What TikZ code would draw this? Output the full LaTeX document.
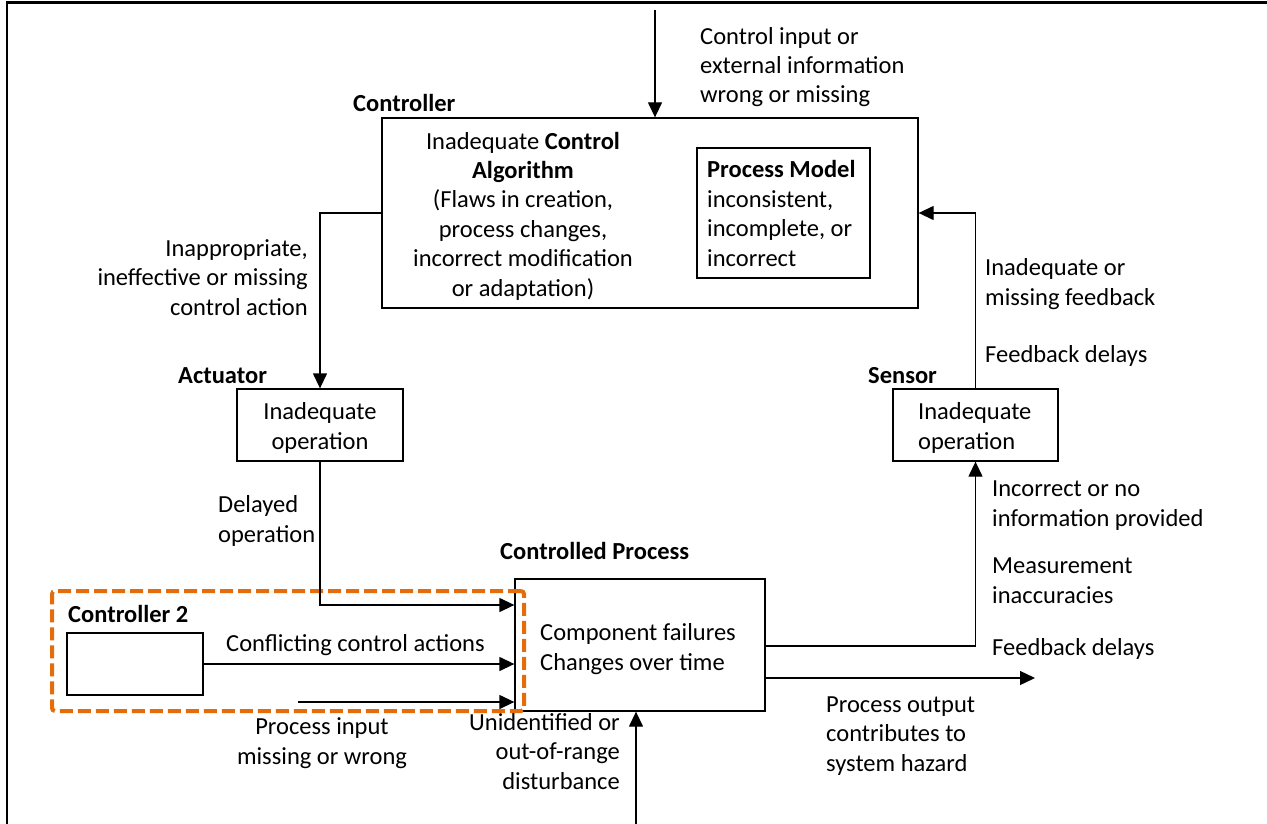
\documentclass[tikz,border=0pt]{standalone}
\usepackage{fontspec}
\setmainfont{Carlito}
\usetikzlibrary{positioning,calc,arrows.meta}
\definecolor{dashorange}{RGB}{228,108,10}

\begin{document}
\begin{tikzpicture}[x=1pt,y=-1pt,>={Triangle[length=15pt,width=14pt]},
  font=\fontsize{24.5}{29.4}\selectfont,
  box/.style={draw,line width=1.3pt,inner sep=0pt},
  txt/.style={inner sep=0pt},
  flow/.style={->,line width=1.3pt}]
\useasboundingbox (0,0) rectangle (1267,824);

% frame
\draw[line width=2.8pt] (7,824) -- (7,2.5) -- (1267,2.5);

% Controller
\path
(650,213)   node[box, minimum width=536pt, minimum height=190pt] (ctrl) {}
(783.5,213) node[box, minimum width=173pt, minimum height=130pt] (pm) {}
(353,112)   node[txt, anchor=base west] (ctrltitle) {\textbf{Controller}}
(523,296)   node[txt, anchor=base, align=center] (ctrltext) {Inadequate \textbf{Control}\\ \textbf{Algorithm}\\ (Flaws in creation,\\ process changes,\\ incorrect modification\\ or adaptation)}
(707,266)   node[txt, anchor=base west, align=left] (pmtext) {\textbf{Process Model}\\ inconsistent,\\ incomplete, or\\ incorrect};

% Actuator and Sensor
\path
(320,425)   node[box, minimum width=166pt, minimum height=72pt] (act) {}
(178,383)   node[txt, anchor=base west] (acttitle) {\textbf{Actuator}}
(320,449)   node[txt, anchor=base, align=center] (acttext) {Inadequate\\ operation}
(975.5,425) node[box, minimum width=165pt, minimum height=72pt] (sens) {}
(868,383)   node[txt, anchor=base west] (senstitle) {\textbf{Sensor}}
(918,449)   node[txt, anchor=base west, align=left] (senstext) {Inadequate\\ operation};

% Controlled process and Controller 2
\path
(640,645)   node[box, minimum width=250pt, minimum height=132pt] (proc) {}
(500,559)   node[txt, anchor=base west] (proctitle) {\textbf{Controlled Process}}
(540,670)   node[txt, anchor=base west, align=left] (proctext) {Component failures\\ Changes over time}
(135,664)   node[box, minimum width=136pt, minimum height=62pt] (ctrl2) {}
(68,622)    node[txt, anchor=base west] (ctrl2title) {\textbf{Controller 2}}
(288,651) node[draw=dashorange, line width=4pt, dash pattern=on 13pt off 5pt, rounded corners=3pt, minimum width=472pt, minimum height=120pt] (c2zone) {};

% free ends
\coordinate (ctrlin) at (655,10);
\coordinate (pin) at (298,702);
\coordinate (dist) at (636,824);
\coordinate (out) at (1035,678);

% connectors
\draw[flow] (ctrlin) -- (ctrlin |- ctrl.north);
\draw[flow] (ctrl.west) -| (act.north);
\draw[flow] (act.south) |- ($(proc.west)+(0,-40)$);
\draw[flow] (ctrl2.east) -- (ctrl2.east -| proc.west);
\draw[flow] (pin) -- (pin -| proc.west);
\draw[flow] (dist) -- (dist |- proc.south);
\draw[flow] ($(proc.east)+(0,1)$) -| (sens.south);
\draw[flow] (proc.east |- out) -- (out);
\draw[flow] (sens.north) |- (ctrl.east);

% labels
\path
(700,103) node[txt, anchor=base west, align=left] (inlbl) {Control input or\\ external information\\ wrong or missing}
(308,315) node[txt, anchor=base east, align=right] (actlbl) {Inappropriate,\\ ineffective or missing\\ control action}
(218,542) node[txt, anchor=base west, align=left] (delaylbl) {Delayed\\ operation}
(226,651) node[txt, anchor=base west] (conflbl) {Conflicting control actions}
(322,764) node[txt, anchor=base, align=center] (pinlbl) {Process input\\ missing or wrong}
(620,789) node[txt, anchor=base east, align=right] (distlbl) {Unidentified or\\ out-of-range\\ disturbance}
(992,526) node[txt, anchor=base west, align=left] (infolbl) {Incorrect or no\\ information provided}
(992,603) node[txt, anchor=base west, align=left] (measlbl) {Measurement\\ inaccuracies}
(992,655) node[txt, anchor=base west] (delaylbl2) {Feedback delays}
(826,771) node[txt, anchor=base west, align=left] (outlbl) {Process output\\ contributes to\\ system hazard}
(985,305) node[txt, anchor=base west, align=left] (fblbl) {Inadequate or\\ missing feedback}
(985,362) node[txt, anchor=base west] (fbdelay) {Feedback delays};

\end{tikzpicture}
\end{document}
